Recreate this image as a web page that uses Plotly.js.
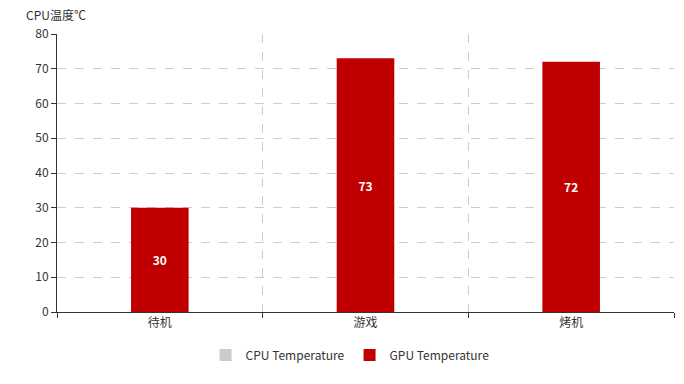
<!DOCTYPE html>
<html><head><meta charset="utf-8">
<script src="https://cdn.plot.ly/plotly-3.0.1.min.js"></script>
<style>html,body{margin:0;padding:0;background:#fff;}#chart{width:684px;height:384px;}</style>
</head><body><div id="chart"></div>
<script>
const categories = ['待机', '游戏', '烤机'];
const cpuTemp = [null, null, null];
const gpuTemp = [30, 73, 72];
const yTicks = [0, 10, 20, 30, 40, 50, 60, 70, 80];
const font = '"Noto Sans CJK SC", "Noto Sans", sans-serif';

const traces = [
  {type: 'bar', name: 'CPU Temperature', x: categories, y: cpuTemp,
   marker: {color: '#cccccc'}, hoverinfo: 'skip'},
  {type: 'bar', name: 'GPU Temperature', x: categories, y: gpuTemp,
   marker: {color: '#c00000'}, text: gpuTemp.map(String), textposition: 'inside',
   insidetextanchor: 'middle', textangle: 0,
   textfont: {color: '#ffffff', size: 12, family: font, weight: 600}}
];

const layout = {
  width: 684, height: 384,
  margin: {l: 57, r: 10, t: 34, b: 72},
  paper_bgcolor: '#fff', plot_bgcolor: '#fff',
  barmode: 'overlay', bargap: 0.72,
  font: {family: font, size: 12, color: '#333'},
  xaxis: {type: 'category', tickson: 'boundaries', ticks: 'outside', ticklen: 5,
    tickcolor: '#333', showline: true, linecolor: '#333', linewidth: 1,
    showgrid: true, gridcolor: '#cccccc', griddash: 'dash', gridwidth: 1,
    tickfont: {size: 12, color: '#333'}, zeroline: false},
  yaxis: {range: [0, 80], tickvals: yTicks, ticks: 'outside', ticklen: 5,
    tickcolor: '#333', showline: true, linecolor: '#333', linewidth: 1,
    showgrid: true, gridcolor: '#cccccc', griddash: 'dash', gridwidth: 1,
    zeroline: false, tickfont: {size: 12, color: '#333'}},
  showlegend: true,
  legend: {orientation: 'h', xref: 'paper', x: 0.475, xanchor: 'center',
    y: -0.155, yanchor: 'middle', font: {size: 12, color: '#333'}, itemwidth: 30},
  annotations: [{text: 'CPU温度℃', xref: 'paper', yref: 'paper', x: -0.053, y: 1.07,
    xanchor: 'left', yanchor: 'middle', showarrow: false,
    font: {size: 12, color: '#333', family: font}}]
};

Plotly.newPlot('chart', traces, layout, {displayModeBar: false, staticPlot: true});
</script></body></html>
